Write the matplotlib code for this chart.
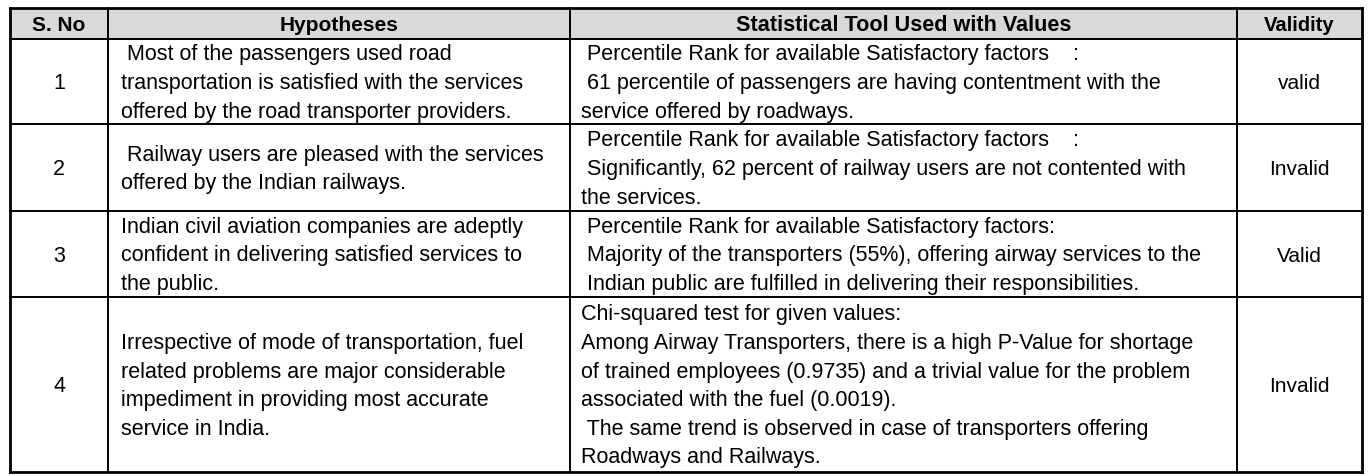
import matplotlib.pyplot as plt

# ---- table content (wrapped as in the source) ----
headers = ["S. No", "Hypotheses", "Statistical Tool Used with Values", "Validity"]
serial_numbers = ["1", "2", "3", "4"]

hypotheses = [
    [" Most of the passengers used road",
     "transportation is satisfied with the services",
     "offered by the road transporter providers."],
    [" Railway users are pleased with the services",
     "offered by the Indian railways."],
    ["Indian civil aviation companies are adeptly",
     "confident in delivering satisfied services to",
     "the public."],
    ["Irrespective of mode of transportation, fuel",
     "related problems are major considerable",
     "impediment in providing most accurate",
     "service in India."],
]

tools = [
    [" Percentile Rank for available Satisfactory factors    :",
     " 61 percentile of passengers are having contentment with the",
     "service offered by roadways."],
    [" Percentile Rank for available Satisfactory factors    :",
     " Significantly, 62 percent of railway users are not contented with",
     "the services."],
    [" Percentile Rank for available Satisfactory factors:",
     " Majority of the transporters (55%), offering airway services to the",
     " Indian public are fulfilled in delivering their responsibilities."],
    ["Chi-squared test for given values:",
     "Among Airway Transporters, there is a high P-Value for shortage",
     "of trained employees (0.9735) and a trivial value for the problem",
     "associated with the fuel (0.0019).",
     " The same trend is observed in case of transporters offering",
     "Roadways and Railways."],
]

validity = ["valid", "Invalid", "Valid", "Invalid"]

# ---- layout (pixels) ----
W, H = 1372, 477
col_edges = [10, 108, 570, 1237, 1362]
row_edges = [9, 40, 125, 212, 298, 473]
line_step = 28.6
FONT = "Liberation Sans"
body_size = 15.5
header_sizes = [15.0, 15.0, 15.6, 14.6]

fig = plt.figure(figsize=(W / 100, H / 100), dpi=100)
ax = fig.add_axes([0, 0, 1, 1])
ax.set_xlim(0, W)
ax.set_ylim(H, 0)
ax.axis("off")

# header fill
ax.fill_between([col_edges[0], col_edges[-1]], row_edges[0], row_edges[1],
                color="#d9d9d9", linewidth=0, zorder=0)

# grid lines
for y in row_edges:
    lw = 2.0 if y in (row_edges[0], row_edges[-1]) else 1.4
    ax.plot([col_edges[0], col_edges[-1]], [y, y], color="black", lw=lw,
            solid_capstyle="projecting", zorder=2)
for x in col_edges:
    lw = 2.0 if x in (col_edges[0], col_edges[-1]) else 1.4
    ax.plot([x, x], [row_edges[0], row_edges[-1]], color="black", lw=lw,
            solid_capstyle="projecting", zorder=2)

# header text
hy = (row_edges[0] + row_edges[1]) / 2
for i, h in enumerate(headers):
    cx = (col_edges[i] + col_edges[i + 1]) / 2
    ax.text(cx, hy + 1, h, ha="center", va="center", fontsize=header_sizes[i],
            fontweight="bold", family=FONT, color="black")


def draw_lines(lines, x, yc):
    n = len(lines)
    for k, s in enumerate(lines):
        y = yc + (k - (n - 1) / 2) * line_step
        ax.text(x, y + 1, s, ha="left", va="center", fontsize=body_size,
                family=FONT, color="black")


for r in range(4):
    yc = (row_edges[r + 1] + row_edges[r + 2]) / 2
    ax.text((col_edges[0] + col_edges[1]) / 2, yc + 1, serial_numbers[r], ha="center",
            va="center", fontsize=body_size, family=FONT)
    draw_lines(hypotheses[r], col_edges[1] + 13, yc)
    draw_lines(tools[r], col_edges[2] + 11, yc)
    ax.text((col_edges[3] + col_edges[4]) / 2, yc + 1, validity[r], ha="center",
            va="center", fontsize=15.0, family=FONT)

fig.savefig("out.png", dpi=100, facecolor="white")
